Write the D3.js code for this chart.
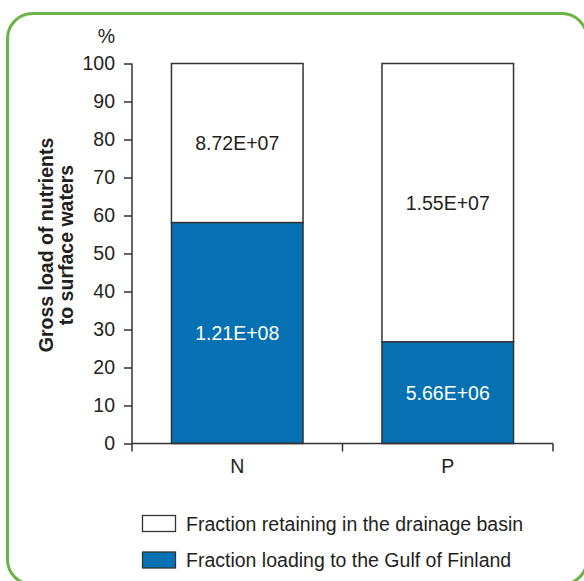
<!DOCTYPE html>
<html><head><meta charset="utf-8">
<script src="https://cdn.jsdelivr.net/npm/d3@7"></script>
<style>body{margin:0;background:#fff}svg{display:block;font-family:"Liberation Sans",Arial,sans-serif}</style>
</head><body>
<svg id="c" width="584" height="581"></svg>
<script>
const categories = ["N", "P"];
const loadingValues = [1.21e8, 5.66e6];   // Fraction loading to the Gulf of Finland
const retainingValues = [8.72e7, 1.55e7]; // Fraction retaining in the drainage basin
const loadingLabels = ["1.21E+08", "5.66E+06"];
const retainingLabels = ["8.72E+07", "1.55E+07"];
const yTicks = [0,10,20,30,40,50,60,70,80,90,100];
const legendLabels = ["Fraction retaining in the drainage basin", "Fraction loading to the Gulf of Finland"];

const blue = "#0571b2", dark = "#333", txt = "#231f20";
const FS = 19.5;
const svg = d3.select("#c");

svg.append("rect").attr("x",7.5).attr("y",13.5).attr("width",579.5).attr("height",571)
  .attr("rx",25).attr("fill","none").attr("stroke","#6ab344").attr("stroke-width",3);

const x0 = 132, x1 = 553, yTop = 63.5, yBot = 443.5;
const x = d3.scaleBand().domain(categories).range([x0, x1]).paddingInner(0.375).paddingOuter(0.1875);
const y = d3.scaleLinear().domain([0,100]).range([yBot, yTop]);

const data = categories.map((c,i) => {
  const tot = loadingValues[i] + retainingValues[i];
  return {c, load: loadingValues[i]/tot*100, ll: loadingLabels[i], rl: retainingLabels[i]};
});

const g = svg.append("g");
data.forEach(d => {
  const bx = x(d.c), bw = x.bandwidth();
  g.append("rect").attr("x",bx).attr("y",y(100)).attr("width",bw).attr("height",y(d.load)-y(100))
    .attr("fill","#fff").attr("stroke",dark).attr("stroke-width",1.5);
  g.append("rect").attr("x",bx).attr("y",y(d.load)).attr("width",bw).attr("height",y(0)-y(d.load))
    .attr("fill",blue).attr("stroke",dark).attr("stroke-width",1.5);
  g.append("text").attr("x",bx+bw/2).attr("y",y((d.load+100)/2)).attr("dy","0.35em")
    .attr("text-anchor","middle").attr("font-size",FS).attr("fill",txt).text(d.rl);
  g.append("text").attr("x",bx+bw/2).attr("y",y(d.load/2)).attr("dy","0.35em")
    .attr("text-anchor","middle").attr("font-size",FS).attr("fill","#fff").text(d.ll);
});

// y axis
const ya = svg.append("g").attr("transform",`translate(${x0},0)`)
  .call(d3.axisLeft(y).tickValues(yTicks).tickSize(8).tickPadding(9).tickFormat(d3.format("d")));
ya.select(".domain").attr("stroke",dark).attr("stroke-width",1.5).attr("d",`M0,${yBot}V${yTop}`);
ya.selectAll(".tick line").attr("stroke",dark).attr("stroke-width",1.5);
ya.selectAll("text").attr("font-size",FS).attr("fill",txt).attr("font-family","Liberation Sans, Arial, sans-serif");

// x axis
const xa = svg.append("g").attr("transform",`translate(0,${yBot})`);
xa.append("line").attr("x1",x0).attr("x2",x1).attr("y1",0).attr("y2",0).attr("stroke",dark).attr("stroke-width",1.5);
[x0, (x0+x1)/2, x1].forEach(t => xa.append("line").attr("x1",t).attr("x2",t).attr("y1",0).attr("y2",8).attr("stroke",dark).attr("stroke-width",1.5));
categories.forEach(c => xa.append("text").attr("x",x(c)+x.bandwidth()/2).attr("y",29.5)
  .attr("text-anchor","middle").attr("font-size",FS).attr("fill",txt).text(c));

svg.append("text").attr("x",115).attr("y",42.5).attr("text-anchor","end").attr("font-size",FS).attr("fill",txt).text("%");

const yl = svg.append("text").attr("transform","rotate(-90)").attr("font-size",19.5).attr("font-weight","bold")
  .attr("fill",txt).attr("text-anchor","middle");
yl.append("tspan").attr("x",-245).attr("y",53).text("Gross load of nutrients");
yl.append("tspan").attr("x",-245).attr("y",72.5).text("to surface waters");

// legend
const legFill = ["#fff", blue];
legendLabels.forEach((l,i) => {
  const ly = 515.5 + i*36.5;
  svg.append("rect").attr("x",142.5).attr("y",ly).attr("width",33).attr("height",16)
    .attr("fill",legFill[i]).attr("stroke",dark).attr("stroke-width",1.3);
  svg.append("text").attr("x",186).attr("y",ly+8.5).attr("dy","0.35em").attr("font-size",FS).attr("fill",txt).text(l);
});
</script>
</body></html>
